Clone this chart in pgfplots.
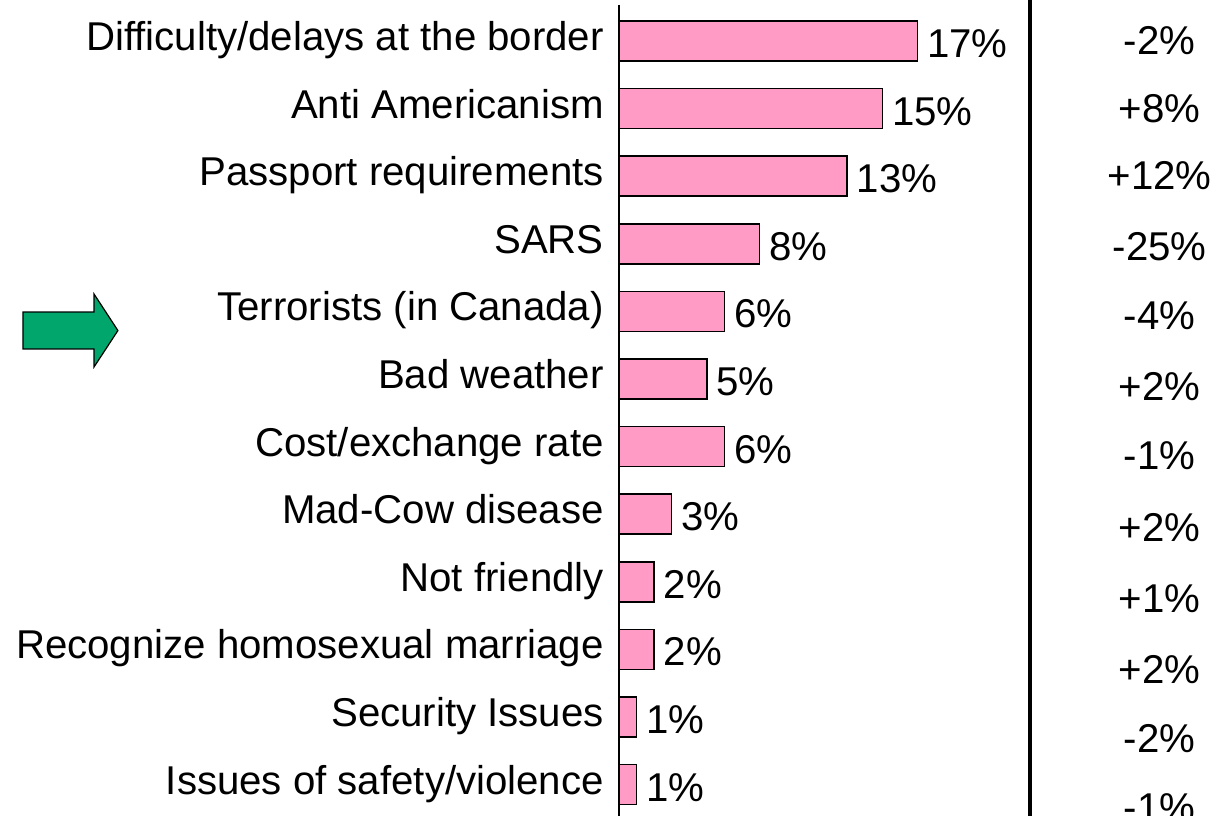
\documentclass[border=0pt]{standalone}
\usepackage{pgfplots}
\pgfplotsset{compat=1.18}
\usepackage{fontspec}
\setmainfont{Liberation Sans}
\newcommand\chartfont{\fontsize{40.2}{46}\selectfont}
\definecolor{barpink}{RGB}{255,155,196}
\definecolor{arrowgreen}{RGB}{0,166,108}
\begin{document}
\begin{tikzpicture}
\useasboundingbox (0,0) rectangle (1231pt,816pt);
\begin{axis}[
  at={(619pt,0pt)}, anchor=south west,
  scale only axis, width=612pt, height=816pt,
  xmin=0, xmax=34.87,
  ymin=-0.6065, ymax=11.4645,
  y dir=reverse,
  clip=false,
  axis line style={draw=none},
  xtick=\empty,
  ytick={0,...,11},
  yticklabels={Difficulty/delays at the border, Anti Americanism, Passport requirements, SARS, Terrorists (in Canada), Bad weather, Cost/exchange rate, Mad-Cow disease, Not friendly, Recognize homosexual marriage, Security Issues, Issues of safety/violence},
  major tick length=0pt,
  tick style={draw=none},
  yticklabel style={font=\chartfont, anchor=base east, inner sep=0pt, xshift=-15pt, yshift=-9.5pt},
]
% bars
\addplot[xbar, bar width=40pt, fill=barpink, draw=black, line width=1.5pt,
  nodes near coords={\pgfmathprintnumber[assume math mode=true]{\pgfplotspointmeta}\%},
  point meta=x,
  nodes near coords style={font=\chartfont, anchor=base west, inner sep=0pt, xshift=9pt, yshift=-16.5pt, black}]
  coordinates {(17,0) (15,1) (13,2) (8,3) (6,4) (5,5) (6,6) (3,7) (2,8) (2,9) (1,10) (1,11)};
% left axis line
\addplot[black, line width=1.5pt] coordinates {(0,-0.533) (0,11.47)};
% thick separator
\addplot[black, line width=4pt] coordinates {(23.42,-0.62) (23.42,11.47)};
% change column
\addplot[draw=none, mark=none, point meta=explicit symbolic,
  nodes near coords={\pgfplotspointmeta\%},
  nodes near coords style={font=\chartfont, anchor=base, inner sep=0pt, black}]
  table[meta=lab] {
x y lab
30.80 0.207 -2
30.80 1.213 +8
30.80 2.204 +12
30.80 3.240 -25
30.80 4.275 -4
30.80 5.311 +2
30.80 6.346 -1
30.80 7.411 +2
30.80 8.447 +1
30.80 9.497 +2
30.80 10.518 -2
30.80 11.553 -1
};
% green arrow
\addplot[fill=arrowgreen, draw=black, line width=1.2pt] coordinates {
(-33.96,4.009) (-29.91,4.009) (-29.91,3.743) (-28.55,4.283) (-29.91,4.822) (-29.91,4.556) (-33.96,4.556)} -- cycle;
\end{axis}
\end{tikzpicture}
\end{document}
